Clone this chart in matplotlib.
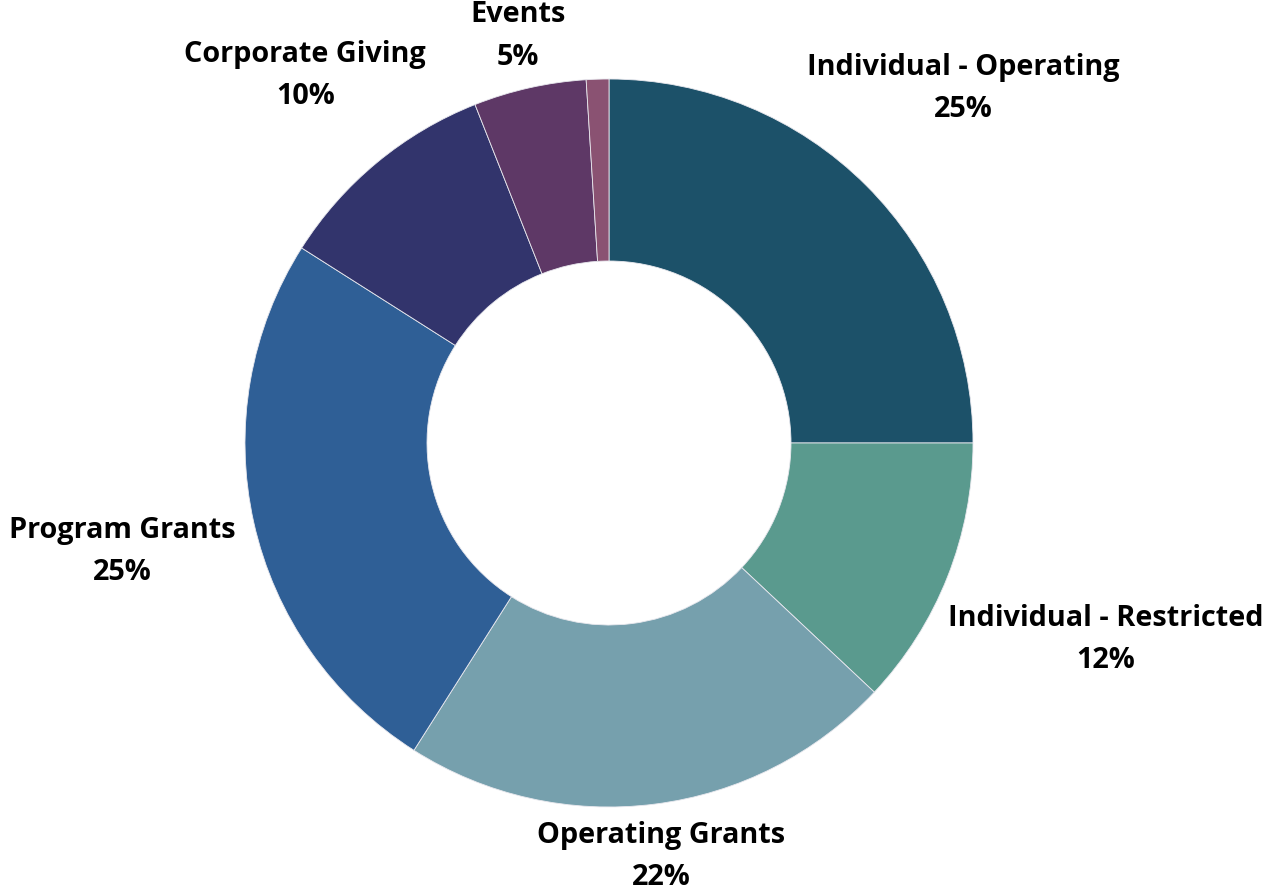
#!/usr/bin/env python3
import numpy as np
import matplotlib
matplotlib.use("Agg")
import matplotlib.pyplot as plt

labels = ["Individual - Operating", "Individual - Restricted",
          "Operating Grants", "Program Grants", "Corporate Giving",
          "Events", ""]
values = [25, 12, 22, 25, 10, 5, 1]
colors = ["#1c5169", "#5a9a8e", "#76a0ad", "#2f5f96", "#32346c",
          "#5e3866", "#8a5272"]
# how far each label sits from the centre, in radii
label_dist = [1.377, 1.468, 1.146, 1.371, 1.309, 1.146]


def main():
    """draws the donut chart and saves it"""
    plt.rcParams["font.family"] = ["Open Sans", "DejaVu Sans"]
    W, H = 1283, 896
    cx, cy, r = 609, 443, 364
    fig = plt.figure(figsize=(W / 100, H / 100), dpi=100)
    ax = fig.add_axes([0, 0, 1, 1])
    wedges, _ = ax.pie(values, colors=colors, startangle=90,
                       counterclock=False, radius=1,
                       wedgeprops=dict(width=0.5, edgecolor="#e8e8ee",
                                       linewidth=0.6))
    total = sum(values)
    start = 90.0
    for lab, v, d in zip(labels, values, label_dist + [0]):
        mid = start - 360.0 * v / total / 2
        start -= 360.0 * v / total
        if not lab:
            continue
        x = d * np.cos(np.radians(mid))
        y = d * np.sin(np.radians(mid))
        pct = round(100 * v / total)
        ax.text(x, y, f"{lab}\n{pct}%", ha="center", va="center",
                fontsize=20.8, fontweight="bold", color="#000000",
                linespacing=1.6)
    ax.set_xlim(-cx / r, (W - cx) / r)
    ax.set_ylim(-(H - cy) / r, cy / r)
    ax.set_aspect("equal")
    ax.axis("off")
    fig.savefig("out.png", dpi=100)


if __name__ == "__main__":
    main()
